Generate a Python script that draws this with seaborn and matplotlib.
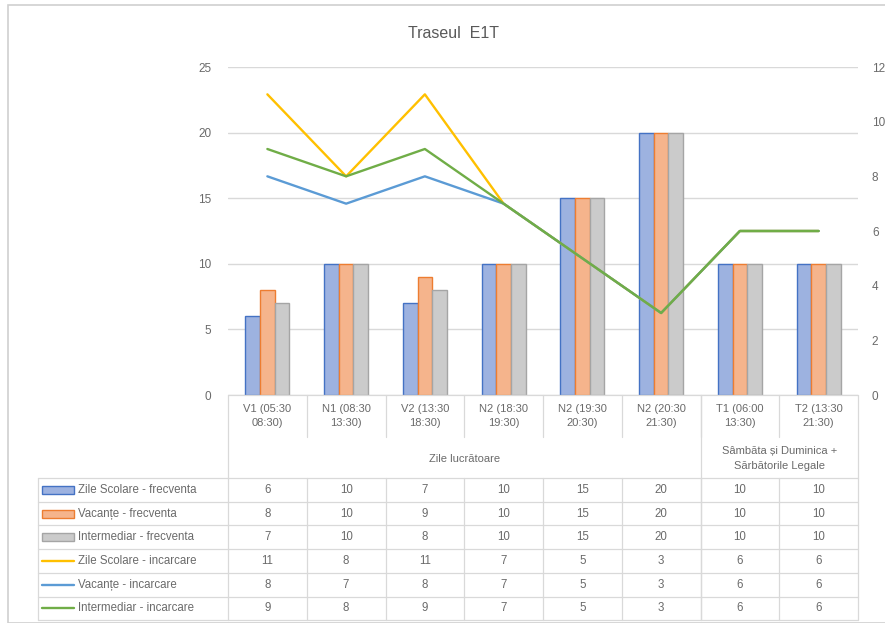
import numpy as np
import pandas as pd
import seaborn as sns
import matplotlib.pyplot as plt
from matplotlib.patches import Rectangle
from matplotlib.lines import Line2D
from matplotlib.transforms import blended_transform_factory

categories = ["V1 (05:30\n08:30)", "N1 (08:30\n13:30)", "V2 (13:30\n18:30)", "N2 (18:30\n19:30)",
              "N2 (19:30\n20:30)", "N2 (20:30\n21:30)", "T1 (06:00\n13:30)", "T2 (13:30\n21:30)"]
groups = ["Zile lucrătoare", "Sâmbăta și Duminica +\nSărbătorile Legale"]
group_sizes = [6, 2]

bar_series = ["Zile Scolare - frecventa", "Vacanțe - frecventa", "Intermediar - frecventa"]
zs_frecv = [6, 10, 7, 10, 15, 20, 10, 10]
vac_frecv = [8, 10, 9, 10, 15, 20, 10, 10]
int_frecv = [7, 10, 8, 10, 15, 20, 10, 10]

line_series = ["Zile Scolare - incarcare", "Vacanțe - incarcare", "Intermediar - incarcare"]
zs_inc = [11, 8, 11, 7, 5, 3, 6, 6]
vac_inc = [8, 7, 8, 7, 5, 3, 6, 6]
int_inc = [9, 8, 9, 7, 5, 3, 6, 6]

bar_fill = ["#9DB2E0", "#F5B48C", "#CBCBCB"]
bar_edge = ["#4472C4", "#ED7D31", "#A5A5A5"]
line_colors = ["#FFC000", "#5B9BD5", "#70AD47"]
txt = "#6A6A6A"
grid = "#D9D9D9"

bars_df = pd.DataFrame({
    "categorie": categories * 3,
    "valoare": zs_frecv + vac_frecv + int_frecv,
    "serie": np.repeat(bar_series, len(categories)),
})
lines_df = pd.DataFrame({
    "pos": list(range(len(categories))) * 3,
    "valoare": zs_inc + vac_inc + int_inc,
    "serie": np.repeat(line_series, len(categories)),
})

sns.set_style("white")
plt.rcParams["font.family"] = ["Liberation Sans", "DejaVu Sans"]

W, H = 885, 623
fig = plt.figure(figsize=(W / 100, H / 100), dpi=100)

def fx(px):
    return px / W

def fy(py):
    return 1 - py / H

# chart frame
fig.patches.append(Rectangle((fx(8), 0), 1, fy(5), transform=fig.transFigure,
                             fill=False, edgecolor="#D0D0D0", linewidth=1.2))

ax = fig.add_axes([fx(228), fy(395), fx(858) - fx(228), fy(67) - fy(395)])
sns.barplot(data=bars_df, x="categorie", y="valoare", hue="serie", order=categories,
            hue_order=bar_series, palette=bar_fill, saturation=1, width=0.56, gap=0,
            legend=False, ax=ax)
for cont, ec in zip(ax.containers, bar_edge):
    for p in cont:
        p.set_edgecolor(ec)
        p.set_linewidth(1)

ax.set_ylim(0, 25)
ax.set_yticks(range(0, 26, 5))
ax.set_xlim(-0.5, len(categories) - 0.5)
ax.set_xticks([])
ax.set_xlabel("")
ax.set_ylabel("")
ax.yaxis.grid(True, color=grid, linewidth=1)
ax.set_axisbelow(True)
for s in ax.spines.values():
    s.set_visible(False)
ax.tick_params(axis="y", length=0, pad=12, labelsize=8.5, labelcolor=txt)

ax2 = ax.twinx()
sns.lineplot(data=lines_df, x="pos", y="valoare", hue="serie", hue_order=line_series,
             palette=line_colors, linewidth=1.7, legend=False, ax=ax2)
ax2.set_ylim(0, 12)
ax2.set_yticks(range(0, 13, 2))
ax2.set_xlim(-0.5, len(categories) - 0.5)
ax2.set_xlabel("")
ax2.set_ylabel("")
for s in ax2.spines.values():
    s.set_visible(False)
ax2.tick_params(axis="y", length=0, pad=10, labelsize=8.5, labelcolor=txt)

fig.text(fx(453), fy(33), "Traseul  E1T", ha="center", va="center", fontsize=11.5, color="#595959")

# data table below the axis
tr = blended_transform_factory(ax.transData, fig.transFigure)
ftr = fig.transFigure
n = len(categories)
lw = 0.9
lx0, lx1 = -0.5, n - 0.5
y_axis, y_cat, y_grp = 395, 437, 478
row_h = 23.7
rows = [zs_frecv, vac_frecv, int_frecv, zs_inc, vac_inc, int_inc]
y_bottom = y_grp + row_h * len(rows)

def hline(x0, x1, py, trans=tr):
    fig.add_artist(Line2D([x0, x1], [fy(py), fy(py)], transform=trans, color=grid, linewidth=lw))

def vline(x, py0, py1, trans=tr):
    fig.add_artist(Line2D([x, x], [fy(py0), fy(py1)], transform=trans, color=grid, linewidth=lw))

hline(lx0, lx1, y_axis)
for i, lab in enumerate(categories):
    ax.text(i, fy((y_axis + y_cat) / 2), lab, transform=tr, ha="center", va="center",
            fontsize=8, color=txt, linespacing=1.55)
for i in range(1, n):
    vline(i - 0.5, y_axis, y_cat)
vline(lx0, y_axis, y_bottom)
vline(lx1, y_axis, y_bottom)

start = 0
for g, size in zip(groups, group_sizes):
    ax.text(start - 0.5 + size / 2, fy((y_cat + y_grp) / 2 + 1), g, transform=tr, ha="center",
            va="center", fontsize=8, color=txt, linespacing=1.55)
    if start > 0:
        vline(start - 0.5, y_axis, y_bottom)
    start += size

for r in range(len(rows) + 1):
    py = y_grp + r * row_h
    fig.add_artist(Line2D([fx(38), fx(228)], [fy(py), fy(py)], transform=ftr, color=grid, linewidth=lw))
    hline(lx0, lx1, py)
vline(fx(38), y_grp, y_bottom, trans=ftr)
for i in range(1, n):
    vline(i - 0.5, y_grp, y_bottom)

labels = bar_series + line_series
for r, (vals, lab) in enumerate(zip(rows, labels)):
    yc = y_grp + (r + 0.5) * row_h
    if r < 3:
        fig.patches.append(Rectangle((fx(42), fy(yc + 4)), fx(74) - fx(42), fy(yc - 4) - fy(yc + 4),
                                     transform=ftr, facecolor=bar_fill[r], edgecolor=bar_edge[r],
                                     linewidth=1))
    else:
        fig.add_artist(Line2D([fx(42), fx(74)], [fy(yc), fy(yc)], transform=ftr,
                              color=line_colors[r - 3], linewidth=1.7))
    fig.text(fx(78), fy(yc), lab, ha="left", va="center", fontsize=8.3, color=txt)
    for i, v in enumerate(vals):
        ax.text(i, fy(yc), str(v), transform=tr, ha="center", va="center", fontsize=8.3, color=txt)

fig.savefig("out.png", dpi=100)
